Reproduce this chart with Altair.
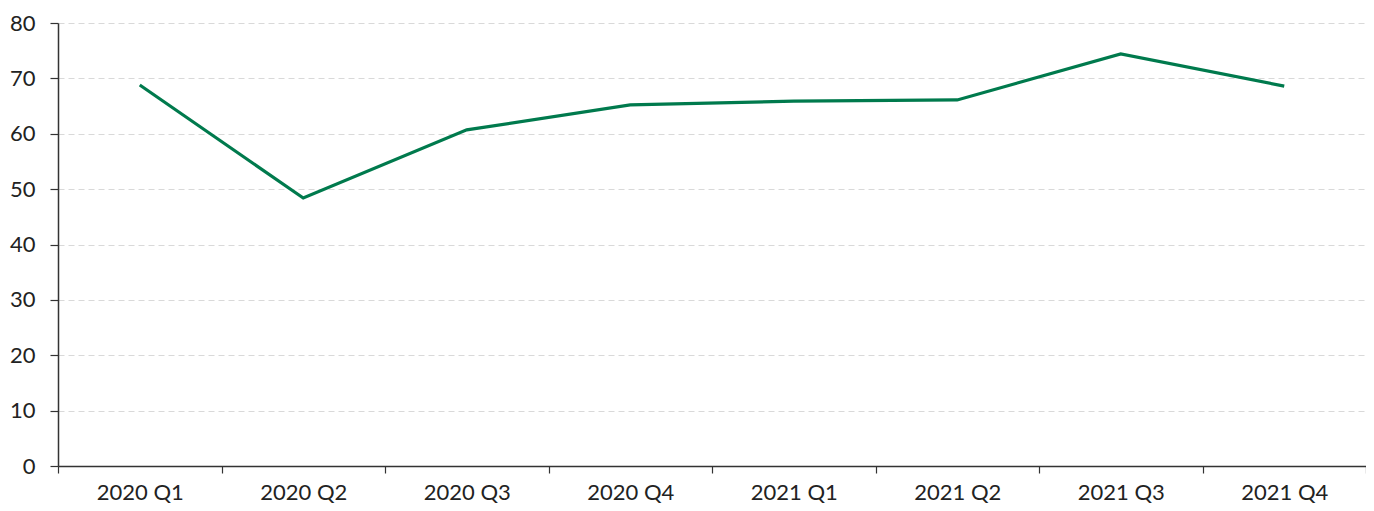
import altair as alt
import pandas as pd

quarters = ["2020 Q1", "2020 Q2", "2020 Q3", "2020 Q4", "2021 Q1", "2021 Q2", "2021 Q3", "2021 Q4"]
values = [68.8, 48.4, 60.7, 65.2, 65.9, 66.1, 74.4, 68.6]

df = pd.DataFrame({"quarter": quarters, "value": values})

chart = alt.Chart(df).mark_line(color="#007A4D", strokeWidth=3.2).encode(
    x=alt.X("quarter:N", sort=quarters, title=None,
            scale=alt.Scale(paddingInner=0, paddingOuter=0),
            axis=alt.Axis(labelAngle=0, tickBand="extent", grid=False, domainColor="#333333",
                          tickColor="#333333", tickSize=7, labelFontSize=22, labelColor="#222222",
                          labelFont="Lato", labelPadding=9, domainWidth=1.5, tickWidth=1.2)),
    y=alt.Y("value:Q", title=None,
            scale=alt.Scale(domain=[0, 80], nice=False),
            axis=alt.Axis(values=list(range(0, 81, 10)), grid=True, gridDash=[6, 4], gridColor="#d9d9d9",
                          domainColor="#333333", tickColor="#333333", tickSize=8, labelFontSize=22,
                          labelColor="#222222", labelFont="Lato", labelPadding=15, domainWidth=1.5,
                          tickWidth=1.2)),
).properties(
    width=1308, height=443,
    autosize=alt.AutoSizeParams(type="none"),
    padding={"left": 50, "top": 15, "right": 0, "bottom": 40},
).configure_view(stroke=None)

chart.save("out.html", embed_options={"renderer": "svg", "actions": False})
